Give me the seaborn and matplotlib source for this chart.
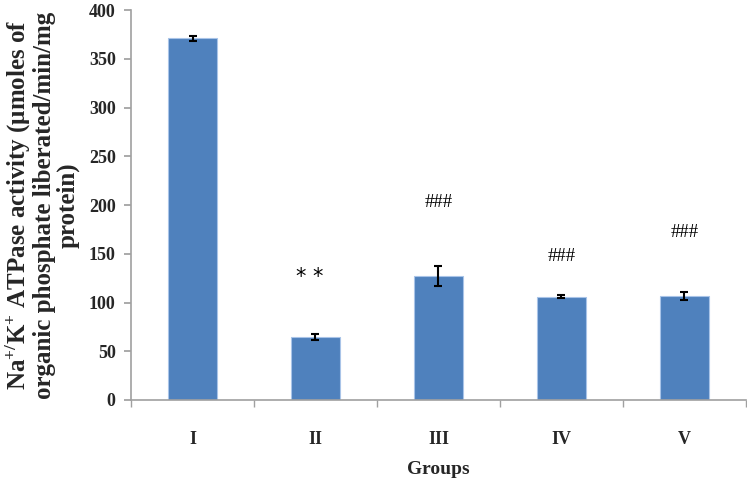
import matplotlib
matplotlib.use("Agg")
import matplotlib.pyplot as plt
import seaborn as sns
import pandas as pd
import numpy as np

groups = ["I", "II", "III", "IV", "V"]
activity = [371, 65, 127, 106, 107]
errors = [3, 3, 10, 1.5, 4]
marks = ["", "* *", "###", "###", "###"]
mark_y = [None, 126, 203, 147, 172]

sns.set_theme(style="white")
plt.rcParams['font.family'] = ['Liberation Serif', 'DejaVu Serif']
plt.rcParams['mathtext.fontset'] = 'custom'
plt.rcParams['mathtext.rm'] = 'Liberation Serif:bold'
plt.rcParams['mathtext.bf'] = 'Liberation Serif:bold'
plt.rcParams['mathtext.it'] = 'Liberation Serif:bold'

df = pd.DataFrame({"Group": groups, "Activity": activity})

fig = plt.figure(figsize=(7.47, 4.86), dpi=100)
ax = fig.add_axes([0.1754, 0.177, 0.823, 0.802])

sns.barplot(data=df, x="Group", y="Activity", color="#4F81BD", width=0.4,
            errorbar=None, saturation=1, edgecolor="#A9C4E8", linewidth=0.8, ax=ax)
xpos = np.arange(len(groups))
ax.errorbar(xpos, activity, yerr=errors, fmt="none", ecolor="black",
            elinewidth=1.5, capsize=3, capthick=1.5)

for x, m, y in zip(xpos, marks, mark_y):
    if m:
        star = m.startswith('*')
        ax.text(x - (0.05 if star else 0), y, m, ha="center", va="center",
                fontsize=15 if star else 13.5,
                family=['DejaVu Sans'] if star else ['Liberation Serif'], color="black")

ax.set_ylim(0, 400)
ax.set_xlim(-0.5, len(groups) - 0.5)
ax.set_yticks(range(0, 401, 50))
ax.set_yticklabels([str(v) for v in range(0, 401, 50)], fontsize=13, fontweight="bold")
ax.set_xticks(xpos)
ax.set_xticklabels(groups, fontsize=13, fontweight="bold")
ax.set_xticks(np.arange(-0.5, len(groups)), minor=True)
ax.tick_params(axis="x", which="major", length=0, pad=22)
ax.tick_params(axis="x", which="minor", length=5, color="#A0A0A0", direction="out", bottom=True)
ax.tick_params(axis="y", length=5, color="#A0A0A0", direction="out", left=True, pad=6)

for s in ["top", "right"]:
    ax.spines[s].set_visible(False)
for s in ["left", "bottom"]:
    ax.spines[s].set_color("#A0A0A0")
    ax.spines[s].set_linewidth(1.2)

ax.set_xlabel("Groups", fontsize=14, fontweight="bold", labelpad=10)
ax.set_ylabel("Na$^{+/}$K$^{+}$ ATPase activity (\u03bcmoles of\norganic phosphate liberated/min/mg\nprotein)",
              fontsize=18, fontweight="bold", labelpad=7, linespacing=0.98)

fig.savefig("out.png", dpi=100)
